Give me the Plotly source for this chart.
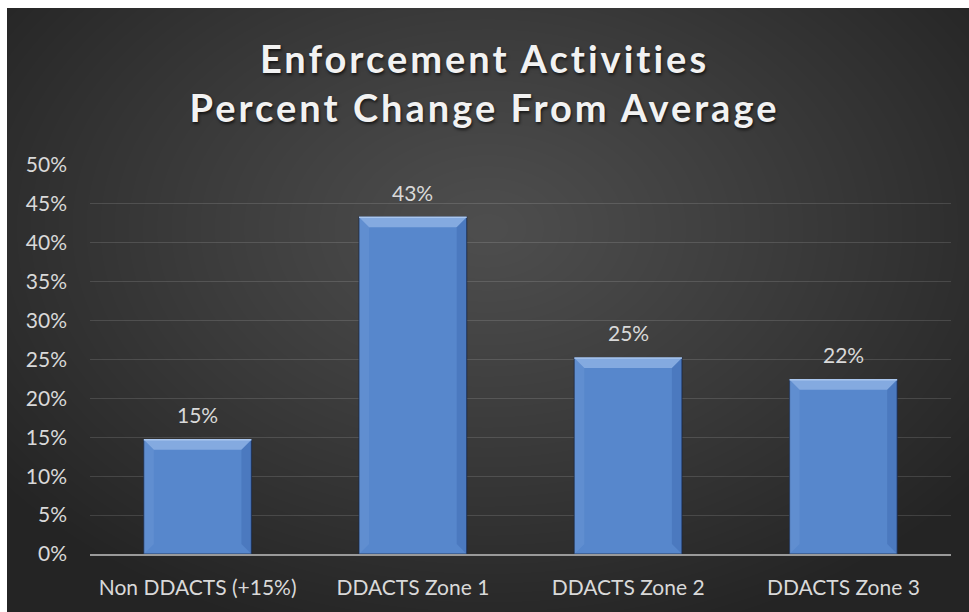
import base64
import struct
import zlib

import numpy as np
import plotly.graph_objects as go

# ---- data -------------------------------------------------------------
categories = ["Non DDACTS (+15%)", "DDACTS Zone 1", "DDACTS Zone 2", "DDACTS Zone 3"]
pct_change = [0.147, 0.433, 0.252, 0.224]
y_tick_values = [0.0, 0.05, 0.10, 0.15, 0.20, 0.25, 0.30, 0.35, 0.40, 0.45, 0.50]
y_tick_labels = ["0%", "5%", "10%", "15%", "20%", "25%", "30%", "35%", "40%", "45%", "50%"]

# ---- geometry ---------------------------------------------------------
W, H = 969, 612
ML, MR, MT, MB = 90, 18, 165, 58
PLOT_W = W - ML - MR
PLOT_H = H - MT - MB
Y_MAX = 0.5
BAR_WIDTH = 0.5
FONT = "Lato, 'Open Sans', sans-serif"


def png_data_uri(rgb):
    """Encode an HxWx3 uint8 array as a PNG data URI."""
    h, w, _ = rgb.shape
    raw = b"".join(b"\x00" + rgb[r].tobytes() for r in range(h))

    def chunk(tag, data):
        c = struct.pack(">I", len(data)) + tag + data
        return c + struct.pack(">I", zlib.crc32(tag + data) & 0xFFFFFFFF)

    png = b"\x89PNG\r\n\x1a\n"
    png += chunk(b"IHDR", struct.pack(">IIBBBBB", w, h, 8, 2, 0, 0, 0))
    png += chunk(b"IDAT", zlib.compress(raw, 9))
    png += chunk(b"IEND", b"")
    return "data:image/png;base64," + base64.b64encode(png).decode()


# radial dark-grey backdrop for the chart card
BG_X0, BG_Y0 = 7, 8
bw, bh = W - BG_X0, H - BG_Y0
yy, xx = np.mgrid[0:bh, 0:bw].astype(float)
cx, cy = 480.0, 220.0
r = np.sqrt(((xx - cx) / 620.0) ** 2 + ((yy - cy) / 430.0) ** 2)
t = np.clip(r, 0, 1) ** 1.1
light, dark = np.array([78, 78, 78]), np.array([36, 36, 36])
bg = (light[None, None, :] * (1 - t[..., None]) + dark[None, None, :] * t[..., None]).astype(np.uint8)
bg_uri = png_data_uri(bg)

fig = go.Figure()

fig.add_trace(
    go.Bar(
        x=categories,
        y=pct_change,
        width=BAR_WIDTH,
        marker=dict(color="#5787cc", line=dict(color="rgba(25,40,70,0.75)", width=1.2)),
        hoverinfo="skip",
    )
)

# bevel highlights on each bar plus value labels
px_y = Y_MAX / PLOT_H
px_x = len(categories) / PLOT_W
bev_h = 10 * px_y
bev_w = 10 * px_x
shapes = []
annotations = []
for i, v in enumerate(pct_change):
    x0, x1 = i - BAR_WIDTH / 2, i + BAR_WIDTH / 2
    shapes.append(
        dict(
            type="path",
            path=f"M {x0} {v} L {x1} {v} L {x1 - bev_w} {v - bev_h} L {x0 + bev_w} {v - bev_h} Z",
            xref="x", yref="y",
            fillcolor="#84aae0", line=dict(width=0),
        )
    )
    shapes.append(
        dict(
            type="path",
            path=f"M {x0} {v} L {x0 + bev_w} {v - bev_h} L {x0 + bev_w} {bev_h} L {x0} 0 Z",
            xref="x", yref="y",
            fillcolor="rgba(120,160,220,0.30)", line=dict(width=0),
        )
    )
    shapes.append(
        dict(
            type="path",
            path=f"M {x1} {v} L {x1 - bev_w} {v - bev_h} L {x1 - bev_w} {bev_h} L {x1} 0 Z",
            xref="x", yref="y",
            fillcolor="rgba(40,80,150,0.25)", line=dict(width=0),
        )
    )
    shapes.append(
        dict(
            type="line", x0=x0, x1=x1, y0=v, y1=v, xref="x", yref="y",
            line=dict(color="#a9c6ee", width=1.5),
        )
    )
    annotations.append(
        dict(
            x=categories[i], y=v, text=f"{v:.0%}",
            showarrow=False, yanchor="middle", yshift=25,
            font=dict(family=FONT, size=21, color="#d9d9d9"),
        )
    )

fig.update_layout(
    width=W,
    height=H,
    margin=dict(l=ML, r=MR, t=MT, b=MB),
    paper_bgcolor="#ffffff",
    plot_bgcolor="rgba(0,0,0,0)",
    showlegend=False,
    bargap=0.5,
    title=dict(
        text="Enforcement Activities<br>Percent Change From Average",
        x=0.5,
        xanchor="center",
        xref="container",
        y=1 - 73 / H,
        yanchor="middle",
        yref="container",
        font=dict(family=FONT, size=38, color="#f2f2f2", weight="bold",
                  shadow="1px 2px 3px rgba(0,0,0,0.65)"),
    ),
    images=[
        dict(
            source=bg_uri,
            xref="paper", yref="paper",
            x=(BG_X0 - ML) / PLOT_W,
            y=(H - MB - BG_Y0) / PLOT_H,
            sizex=bw / PLOT_W,
            sizey=bh / PLOT_H,
            xanchor="left", yanchor="top",
            sizing="stretch",
            layer="below",
        )
    ],
    shapes=shapes,
    annotations=annotations,
    xaxis=dict(
        showgrid=False,
        showline=True,
        linecolor="#9a9a9a",
        linewidth=2,
        ticks="",
        ticklabelstandoff=14,
        tickfont=dict(family=FONT, size=21, color="#d9d9d9"),
        fixedrange=True,
    ),
    yaxis=dict(
        range=[0, Y_MAX],
        tickvals=y_tick_values,
        ticktext=y_tick_labels,
        showgrid=True,
        gridcolor="rgba(255,255,255,0.13)",
        gridwidth=1,
        zeroline=False,
        showline=False,
        ticks="",
        ticklabelstandoff=22,
        tickfont=dict(family=FONT, size=21, color="#d9d9d9"),
        fixedrange=True,
    ),
)

# widen the title's letter spacing after the plot is drawn
title_spacing_js = """
var gd = document.getElementById('{plot_id}');
function spaceTitle() {
  gd.querySelectorAll('.gtitle').forEach(function (el) {
    el.style.letterSpacing = '3px';
  });
}
spaceTitle();
gd.on('plotly_afterplot', spaceTitle);
"""

fig.write_html("out.html", config={"displayModeBar": False}, post_script=title_spacing_js)
